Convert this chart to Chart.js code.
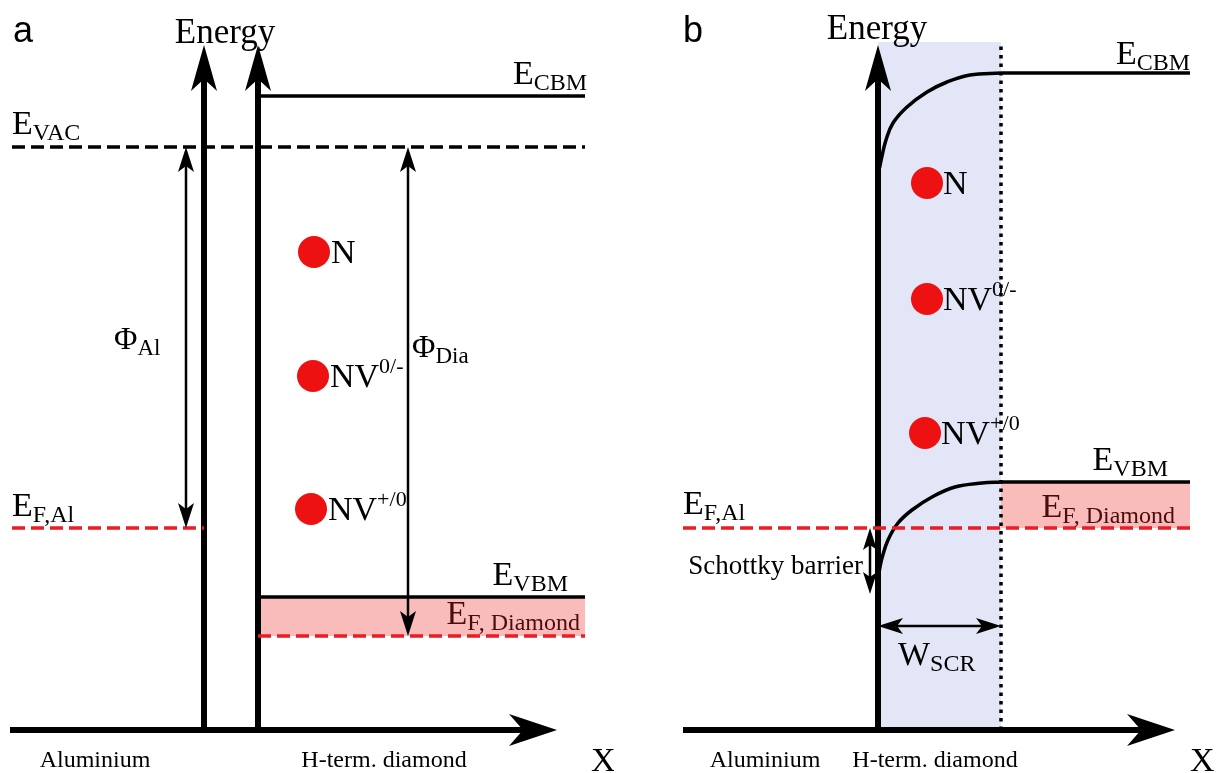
<!DOCTYPE html>
<html>
<head>
<meta charset="utf-8">
<script src="https://cdn.jsdelivr.net/npm/chart.js@4.4.1/dist/chart.umd.min.js"></script>
<style>
  body { margin: 0; background: #fff; }
  #wrap { display: flex; width: 1229px; height: 773px; }
  canvas { display: block; }
</style>
</head>
<body>
<div id="wrap">
  <canvas id="chartA" width="614" height="773"></canvas>
  <canvas id="chartB" width="615" height="773"></canvas>
</div>
<script>
// units: x = position (arbitrary), y = energy (arbitrary, axis at 0)
const Y_MIN = -0.43, Y_MAX = 7.30;

// ---- panel a : before contact ----
const levelNamesA = ['E_CBM', 'E_VAC', 'E_F,Al', 'E_VBM', 'E_F,Diamond'];
const levelEnergyA = [6.34, 5.83, 2.02, 1.33, 0.94];
const levelStartA = [2.58, 0.12, 0.12, 2.58, 2.58];
const levelEndA = [5.85, 5.85, 2.04, 5.85, 5.85];
const metalAxisA = 2.04, diamondAxisA = 2.58, axisTopA = 6.85, axisEndA = 5.57, axisStartA = 0.10;
const phiAlX = 1.86, phiDiaX = 4.08;

const defectNames = ['N', 'NV', 'NV'];
const defectSup = ['', '0/-', '+/0'];
const defectXA = [3.14, 3.13, 3.11];
const defectEA = [4.78, 3.54, 2.21];

// ---- panel b : after contact ----
const ecbmB = 6.57, evbmB = 2.48, efB = 2.02;
const axisB = 2.64, scrEdgeB = 3.87, levelEndB = 5.76, efStartB = 0.69;
const axisTopB = 6.85, axisEndB = 5.61, scrTopB = 6.88;
const cbmCurveX = [2.655, 2.68, 2.72, 2.79, 2.93, 3.13, 3.33, 3.56, 3.87];
const cbmCurveE = [5.62, 5.74, 5.90, 6.07, 6.23, 6.38, 6.48, 6.55, 6.57];
const vbmCurveX = [2.65, 2.68, 2.74, 2.84, 2.98, 3.18, 3.41, 3.68, 3.87];
const vbmCurveE = [1.58, 1.72, 1.90, 2.07, 2.20, 2.33, 2.43, 2.47, 2.48];
const defectXB = [3.13, 3.13, 3.11];
const defectEB = [5.47, 4.31, 2.97];
const schottkyX = 2.56, schottkyBottom = 1.36;
const wscrE = 1.04;

const RED = '#ec1c24', PINK = 'rgba(250,180,180,0.9)', BLUE = '#e3e6f6', DARKRED = '#4d0c0c';
const SERIF = '"Liberation Serif", "Times New Roman", serif';

function seg(x0, x1, y0, y1) { return [{ x: x0, y: y0 }, { x: x1, y: y1 }]; }
function lineDs(data, color, width, dash, extra) {
  return Object.assign({ type: 'line', data, borderColor: color, borderWidth: width,
    borderDash: dash || [], pointRadius: 0, fill: false, tension: 0 }, extra || {});
}
function dotDs(xs, es) {
  return { type: 'scatter', data: xs.map((x, i) => ({ x, y: es[i] })), pointRadius: 16,
    pointBackgroundColor: '#ee1111', pointBorderWidth: 0, order: -1 };
}

function head(ctx, x, y, dir, len, hw, notch) {
  // dir: angle of arrow direction in radians
  ctx.save();
  ctx.translate(x, y);
  ctx.rotate(dir);
  ctx.beginPath();
  ctx.moveTo(0, 0);
  ctx.lineTo(-len, -hw);
  ctx.lineTo(-len + notch, 0);
  ctx.lineTo(-len, hw);
  ctx.closePath();
  ctx.fillStyle = '#000';
  ctx.fill();
  ctx.restore();
}

function label(ctx, x, y, main, low, opts) {
  const o = Object.assign({ size: 33, subSize: 24, align: 'left', color: '#000', sup: false }, opts || {});
  ctx.save();
  ctx.fillStyle = o.color;
  ctx.textBaseline = 'alphabetic';
  ctx.textAlign = 'left';
  ctx.font = o.size + 'px ' + SERIF;
  const w1 = ctx.measureText(main).width;
  ctx.font = o.subSize + 'px ' + SERIF;
  const w2 = low ? ctx.measureText(low).width : 0;
  let x0 = x;
  if (o.align === 'right') x0 = x - w1 - w2;
  if (o.align === 'center') x0 = x - (w1 + w2) / 2;
  ctx.font = o.size + 'px ' + SERIF;
  ctx.fillText(main, x0, y);
  if (low) {
    ctx.font = o.subSize + 'px ' + SERIF;
    ctx.fillText(low, x0 + w1, o.sup ? y - o.size * 0.42 : y + 6);
  }
  ctx.restore();
}

function baseOptions(width) {
  return {
    responsive: false,
    animation: false,
    layout: { padding: 0, autoPadding: false },
    plugins: { legend: { display: false }, tooltip: { enabled: false } },
    scales: {
      x: { type: 'linear', min: 0, max: width, display: false },
      y: { type: 'linear', min: Y_MIN, max: Y_MAX, display: false }
    }
  };
}

// ---------- chart a ----------
const dsA = [dotDs(defectXA, defectEA)];
levelNamesA.forEach((name, i) => {
  const red = name.startsWith('E_F');
  const dashed = red || name === 'E_VAC';
  dsA.push(lineDs(seg(levelStartA[i], levelEndA[i], levelEnergyA[i], levelEnergyA[i]),
    red ? RED : '#000', 3.5, dashed ? [13, 6] : []));
});
dsA.push(lineDs(seg(levelStartA[3], levelEndA[3], levelEnergyA[3], levelEnergyA[3]), 'rgba(0,0,0,0)', 0, [],
  { fill: { value: levelEnergyA[4] }, backgroundColor: PINK, order: 10 }));
dsA.push(lineDs(seg(metalAxisA, metalAxisA, 0, axisTopA - 0.3), '#000', 6));
dsA.push(lineDs(seg(diamondAxisA, diamondAxisA, 0, axisTopA - 0.3), '#000', 6));
dsA.push(lineDs(seg(axisStartA, axisEndA - 0.3, 0, 0), '#000', 6));
dsA.push(lineDs(seg(phiAlX, phiAlX, levelEnergyA[1] - 0.1, levelEnergyA[2] + 0.1), '#000', 2.5));
dsA.push(lineDs(seg(phiDiaX, phiDiaX, levelEnergyA[1] - 0.1, levelEnergyA[4] + 0.1), '#000', 2.5));

function extrasA(c) {
  const ctx = c.ctx, X = v => c.scales.x.getPixelForValue(v), Y = v => c.scales.y.getPixelForValue(v);
  head(ctx, X(metalAxisA), Y(axisTopA), -Math.PI / 2, 46, 13, 12);
  head(ctx, X(diamondAxisA), Y(axisTopA), -Math.PI / 2, 46, 13, 12);
  head(ctx, X(axisEndA), Y(0), 0, 48, 16, 14);
  head(ctx, X(phiAlX), Y(levelEnergyA[1]), -Math.PI / 2, 25, 8, 6);
  head(ctx, X(phiAlX), Y(levelEnergyA[2]), Math.PI / 2, 25, 8, 6);
  head(ctx, X(phiDiaX), Y(levelEnergyA[1]), -Math.PI / 2, 25, 8, 6);
  head(ctx, X(phiDiaX), Y(levelEnergyA[4]), Math.PI / 2, 25, 8, 6);

  ctx.save();
  ctx.font = '36px "Liberation Sans", Arial, sans-serif';
  ctx.fillStyle = '#000';
  ctx.fillText('a', 13, 42);
  ctx.restore();
  label(ctx, 225, 43, 'Energy', '', { size: 35, align: 'center' });
  label(ctx, 587, Y(levelEnergyA[0]) - 12, 'E', 'CBM', { size: 34, align: 'right' });
  label(ctx, 12, Y(levelEnergyA[1]) - 13, 'E', 'VAC', { size: 34 });
  label(ctx, 12, Y(levelEnergyA[2]) - 12, 'E', 'F,Al', { size: 34 });
  label(ctx, 568, Y(levelEnergyA[3]) - 12, 'E', 'VBM', { size: 34, align: 'right' });
  label(ctx, 580, Y(levelEnergyA[4]) - 12, 'E', 'F, Diamond', { size: 34, align: 'right', color: DARKRED });
  label(ctx, 114, 349, 'Φ', 'Al', { size: 32, subSize: 23 });
  label(ctx, 412, 357, 'Φ', 'Dia', { size: 32, subSize: 23 });
  defectNames.forEach((n, i) => {
    label(ctx, X(defectXA[i]) + 17, Y(defectEA[i]) + 11, n, defectSup[i], { size: 34, subSize: 22, sup: true });
  });
  label(ctx, 95, 767, 'Aluminium', '', { size: 24, align: 'center' });
  label(ctx, 384, 767, 'H-term. diamond', '', { size: 24, align: 'center' });
  label(ctx, 591, 771, 'X', '', { size: 34 });
}

new Chart(document.getElementById('chartA'), {
  type: 'scatter',
  data: { datasets: dsA },
  options: baseOptions(6.14),
  plugins: [{ id: 'extrasA', afterDatasetsDraw: extrasA }]
});

// ---------- chart b ----------
const dsB = [dotDs(defectXB, defectEB)];
dsB.push(lineDs(seg(axisB, scrEdgeB, scrTopB, scrTopB), 'rgba(0,0,0,0)', 0, [],
  { fill: { value: 0 }, backgroundColor: BLUE, order: 11 }));
dsB.push(lineDs(seg(scrEdgeB, levelEndB, evbmB, evbmB), 'rgba(0,0,0,0)', 0, [],
  { fill: { value: efB }, backgroundColor: PINK, order: 10 }));
dsB.push(lineDs(seg(scrEdgeB, scrEdgeB, 0, scrTopB), '#000', 3.5, [3.5, 5]));
dsB.push(lineDs(seg(scrEdgeB, levelEndB, ecbmB, ecbmB), '#000', 3.5));
dsB.push(lineDs(seg(scrEdgeB, levelEndB, evbmB, evbmB), '#000', 3.5));
dsB.push(lineDs(seg(efStartB, levelEndB, efB, efB), RED, 3.5, [13, 6]));
dsB.push(lineDs(cbmCurveX.map((x, i) => ({ x, y: cbmCurveE[i] })), '#000', 3.5, [], { tension: 0.4, borderJoinStyle: 'round' }));
dsB.push(lineDs(vbmCurveX.map((x, i) => ({ x, y: vbmCurveE[i] })), '#000', 3.5, [], { tension: 0.4, borderJoinStyle: 'round' }));
dsB.push(lineDs(seg(axisB, axisB, 0, axisTopB - 0.3), '#000', 6));
dsB.push(lineDs(seg(efStartB, axisEndB - 0.3, 0, 0), '#000', 6));
dsB.push(lineDs(seg(schottkyX, schottkyX, efB - 0.1, schottkyBottom + 0.1), '#000', 2.5));
dsB.push(lineDs(seg(axisB + 0.1, scrEdgeB - 0.1, wscrE, wscrE), '#000', 2.5));

function extrasB(c) {
  const ctx = c.ctx, X = v => c.scales.x.getPixelForValue(v), Y = v => c.scales.y.getPixelForValue(v);
  head(ctx, X(axisB), Y(axisTopB), -Math.PI / 2, 46, 13, 12);
  head(ctx, X(axisEndB), Y(0), 0, 48, 16, 14);
  head(ctx, X(schottkyX), Y(efB), -Math.PI / 2, 22, 7, 5);
  head(ctx, X(schottkyX), Y(schottkyBottom), Math.PI / 2, 22, 7, 5);
  head(ctx, X(axisB), Y(wscrE), Math.PI, 25, 8, 6);
  head(ctx, X(scrEdgeB), Y(wscrE), 0, 25, 8, 6);

  ctx.save();
  ctx.font = '36px "Liberation Sans", Arial, sans-serif';
  ctx.fillStyle = '#000';
  ctx.fillText('b', 69, 42);
  ctx.restore();
  label(ctx, 263, 39, 'Energy', '', { size: 35, align: 'center' });
  label(ctx, 576, Y(ecbmB) - 9, 'E', 'CBM', { size: 34, align: 'right' });
  label(ctx, 554, Y(evbmB) - 12, 'E', 'VBM', { size: 34, align: 'right' });
  label(ctx, 561, Y(efB) - 11, 'E', 'F, Diamond', { size: 34, align: 'right', color: DARKRED });
  label(ctx, 69, Y(efB) - 14, 'E', 'F,Al', { size: 34 });
  label(ctx, 249, 574, 'Schottky barrier', '', { size: 27, align: 'right' });
  label(ctx, 284, 665, 'W', 'SCR', { size: 34 });
  defectNames.forEach((n, i) => {
    label(ctx, X(defectXB[i]) + 16, Y(defectEB[i]) + 11, n, defectSup[i], { size: 34, subSize: 22, sup: true });
  });
  label(ctx, 151, 767, 'Aluminium', '', { size: 24, align: 'center' });
  label(ctx, 321, 767, 'H-term. diamond', '', { size: 24, align: 'center' });
  label(ctx, 576, 771, 'X', '', { size: 34 });
}

new Chart(document.getElementById('chartB'), {
  type: 'scatter',
  data: { datasets: dsB },
  options: baseOptions(6.15),
  plugins: [{ id: 'extrasB', afterDatasetsDraw: extrasB }]
});
</script>
</body>
</html>
